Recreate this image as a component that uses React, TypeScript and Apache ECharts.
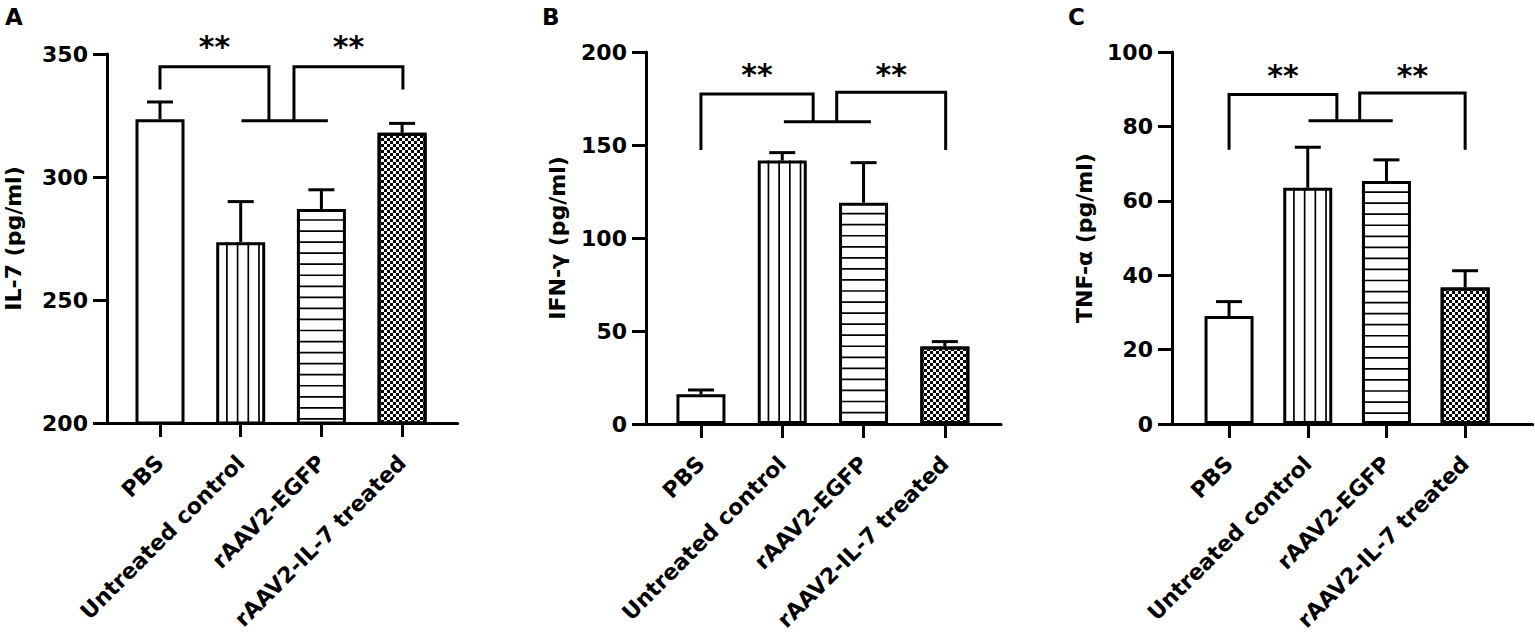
import React, { useEffect, useRef } from 'react';
import * as echarts from 'echarts';

// ---------------- data ----------------
const categories = ['PBS', 'Untreated control', 'rAAV2-EGFP', 'rAAV2-IL-7 treated'];

const il7Means = [323.5, 273.5, 287, 318];
const il7Errors = [7, 16.5, 7.8, 3.8];
const ifnMeans = [16, 141.6, 119, 41.6];
const ifnErrors = [2.3, 4.3, 21.5, 2.7];
const tnfMeans = [29, 63.5, 65.3, 36.7];
const tnfErrors = [3.9, 10.9, 5.7, 4.5];

const il7Axis = [200, 350, 50];
const ifnAxis = [0, 200, 50];
const tnfAxis = [0, 100, 20];

// significance brackets (category-index x, value y): [xStart, xEnd, yTop, yDropStart, yDropEnd]
const il7Brackets = [[0, 1.35, 344.8, 335.6, 322.9], [1.66, 3.01, 344.8, 322.9, 335.6]];
const ifnBrackets = [[0, 1.38, 177.4, 147.3, 162.5], [1.67, 3.01, 178.4, 162.5, 147.3]];
const tnfBrackets = [[0, 1.37, 88.6, 73.7, 81.5], [1.66, 3.0, 89.0, 81.5, 73.7]];
// joining bar under the brackets: [xStart, xEnd, y]
const il7Join = [1.01, 2.08, 322.9];
const ifnJoin = [1.02, 2.09, 162.5];
const tnfJoin = [1.01, 2.08, 81.5];
// significance mark level
const il7StarY = 353;
const ifnStarY = 187.8;
const tnfStarY = 93.8;
const starText = '**';

// ---------------- styles / layout ----------------
const FONT = "'DejaVu Sans'";
const BAR_W = 49;
const CAP_HALF = 13;
const LW = 3;
const PATTERNS = ['none', 'vertical', 'horizontal', 'checker'];

const panels = [
  {
    letter: 'A', title: 'IL-7 (pg/ml)', means: il7Means, errors: il7Errors, axis: il7Axis,
    brackets: il7Brackets, join: il7Join, starY: il7StarY,
    L: { axisLeft: 107, axisW: 350.7, barLeft: 119.65, barW: 322.8, top: 54, bottom: 423, nameGap: 83, letterX: 5 },
  },
  {
    letter: 'B', title: 'IFN-γ (pg/ml)', means: ifnMeans, errors: ifnErrors, axis: ifnAxis,
    brackets: ifnBrackets, join: ifnJoin, starY: ifnStarY,
    L: { axisLeft: 646, axisW: 355, barLeft: 660.3, barW: 325.2, top: 52, bottom: 424, nameGap: 78, letterX: 542 },
  },
  {
    letter: 'C', title: 'TNF-α (pg/ml)', means: tnfMeans, errors: tnfErrors, axis: tnfAxis,
    brackets: tnfBrackets, join: tnfJoin, starY: tnfStarY,
    L: { axisLeft: 1172, axisW: 360.7, barLeft: 1189.7, barW: 314.8, top: 52, bottom: 424, nameGap: 77, letterX: 1068 },
  },
];

const H = 642;

function buildOption() {
  const grid: any[] = [];
  const xAxis: any[] = [];
  const yAxis: any[] = [];
  const series: any[] = [];
  const graphic: any[] = [];

  panels.forEach((p, pi) => {
    const [ymin, ymax, yint] = p.axis;
    const L = p.L;
    grid.push({ left: L.axisLeft, width: L.axisW, top: L.top, height: L.bottom - L.top, containLabel: false });
    grid.push({ left: L.barLeft, width: L.barW, top: L.top, height: L.bottom - L.top, containLabel: false });
    const gA = pi * 2, gB = pi * 2 + 1;
    xAxis.push({
      gridIndex: gA, type: 'value', min: 0, max: 1,
      axisLine: { show: true, onZero: false, lineStyle: { color: '#000', width: LW } },
      axisTick: { show: false }, axisLabel: { show: false }, splitLine: { show: false },
    });
    xAxis.push({
      gridIndex: gB, type: 'category', data: categories,
      axisLine: { show: false },
      axisTick: { show: true, alignWithLabel: true, length: 14, lineStyle: { color: '#000', width: LW } },
      axisLabel: {
        interval: 0, rotate: 45, margin: 36, color: '#000', fontFamily: FONT, fontWeight: 'bold', fontSize: 22,
      },
      splitLine: { show: false },
    });
    xAxis.push({ gridIndex: gB, type: 'value', min: -0.5, max: 3.5, show: false });
    const xCat = pi * 3 + 1, xVal = pi * 3 + 2;

    yAxis.push({
      gridIndex: gA, type: 'value', min: ymin, max: ymax, interval: yint,
      name: p.title, nameLocation: 'middle', nameGap: L.nameGap,
      nameTextStyle: { color: '#000', fontFamily: FONT, fontWeight: 'bold', fontSize: 22 },
      axisLine: { show: true, lineStyle: { color: '#000', width: LW } },
      axisTick: { show: true, length: 14, lineStyle: { color: '#000', width: LW } },
      axisLabel: { margin: 19, color: '#000', fontFamily: FONT, fontWeight: 'bold', fontSize: 22 },
      splitLine: { show: false },
    });
    yAxis.push({ gridIndex: gB, type: 'value', min: ymin, max: ymax, show: false });
    const yB = pi * 2 + 1;

    series.push({
      type: 'bar', xAxisIndex: xCat, yAxisIndex: yB, barWidth: BAR_W, startValue: ymin,
      data: p.means.map((v, i) => ({
        value: v,
        itemStyle: {
          color: '#fff', borderColor: '#000', borderWidth: LW,
          decal: PATTERNS[i] === 'checker'
            ? { symbol: 'rect', symbolSize: 1, color: '#000', dashArrayX: [[3, 3], [0, 3, 3, 0]], dashArrayY: [3, 0] }
            : 'none',
        },
      })),
      z: 2,
    });

    series.push({
      type: 'custom', xAxisIndex: xCat, yAxisIndex: yB, z: 3, clip: false,
      data: p.means.map((v, i) => [i, v, p.errors[i]]),
      renderItem: (params: any, api: any) => {
        const i = api.value(0), m = api.value(1), e = api.value(2);
        const top = api.coord([i, m]);
        const cap = api.coord([i, m + e]);
        const base = api.coord([i, ymin]);
        const cx = top[0];
        const left = cx - BAR_W / 2, right = cx + BAR_W / 2;
        const children: any[] = [];
        const kind = PATTERNS[params.dataIndex];
        if (kind === 'vertical') {
          for (let k = 1; left + k * 10.7 < right - 3; k++) {
            const x = left + k * 10.7;
            children.push({ type: 'line', shape: { x1: x, y1: top[1], x2: x, y2: base[1] }, style: { stroke: '#000', lineWidth: 1.7 } });
          }
        } else if (kind === 'horizontal') {
          for (let y = top[1] + 11; y < base[1] - 2; y += 11.05) {
            children.push({ type: 'line', shape: { x1: left, y1: y, x2: right, y2: y }, style: { stroke: '#000', lineWidth: 1.7 } });
          }
        }
        children.push({ type: 'line', shape: { x1: cx, y1: top[1], x2: cx, y2: cap[1] }, style: { stroke: '#000', lineWidth: LW } });
        children.push({ type: 'line', shape: { x1: cx - CAP_HALF, y1: cap[1], x2: cx + CAP_HALF, y2: cap[1] }, style: { stroke: '#000', lineWidth: LW } });
        return { type: 'group', children };
      },
    });

    series.push({
      type: 'custom', xAxisIndex: xVal, yAxisIndex: yB, z: 4, clip: false,
      data: p.brackets,
      renderItem: (params: any, api: any) => {
        const x0 = api.value(0), x1 = api.value(1), yt = api.value(2), y0 = api.value(3), y1 = api.value(4);
        const pts = [api.coord([x0, y0]), api.coord([x0, yt]), api.coord([x1, yt]), api.coord([x1, y1])];
        const star = api.coord([(x0 + x1) / 2, p.starY]);
        return {
          type: 'group',
          children: [
            { type: 'polyline', shape: { points: pts }, style: { stroke: '#000', lineWidth: LW, fill: null, lineJoin: 'miter' } },
            {
              type: 'text', x: star[0], y: star[1],
              style: { text: starText, fontSize: 30, fontWeight: 'bold', fontFamily: FONT, fill: '#000', align: 'center', verticalAlign: 'middle' },
            },
          ],
        };
      },
    });

    series.push({
      type: 'line', xAxisIndex: xVal, yAxisIndex: yB, z: 4, symbol: 'none', silent: true,
      data: [[p.join[0], p.join[2]], [p.join[1], p.join[2]]],
      lineStyle: { color: '#000', width: LW },
    });

    graphic.push({
      type: 'text', left: L.letterX, top: 5,
      style: { text: p.letter, fontSize: 23, fontWeight: 'bold', fontFamily: FONT, fill: '#000' },
    });
  });

  return { animation: false, backgroundColor: '#fff', grid, xAxis, yAxis, series, graphic };
}

export default function App() {
  const ref = useRef<HTMLDivElement>(null);
  useEffect(() => {
    if (!ref.current) return;
    const chart = echarts.init(ref.current, null, { renderer: 'svg' });
    chart.setOption(buildOption() as any);
    return () => chart.dispose();
  }, []);
  return <div ref={ref} style={{ position: 'absolute', left: 0, top: 0, width: 1535, height: H, background: '#fff' }} />;
}
